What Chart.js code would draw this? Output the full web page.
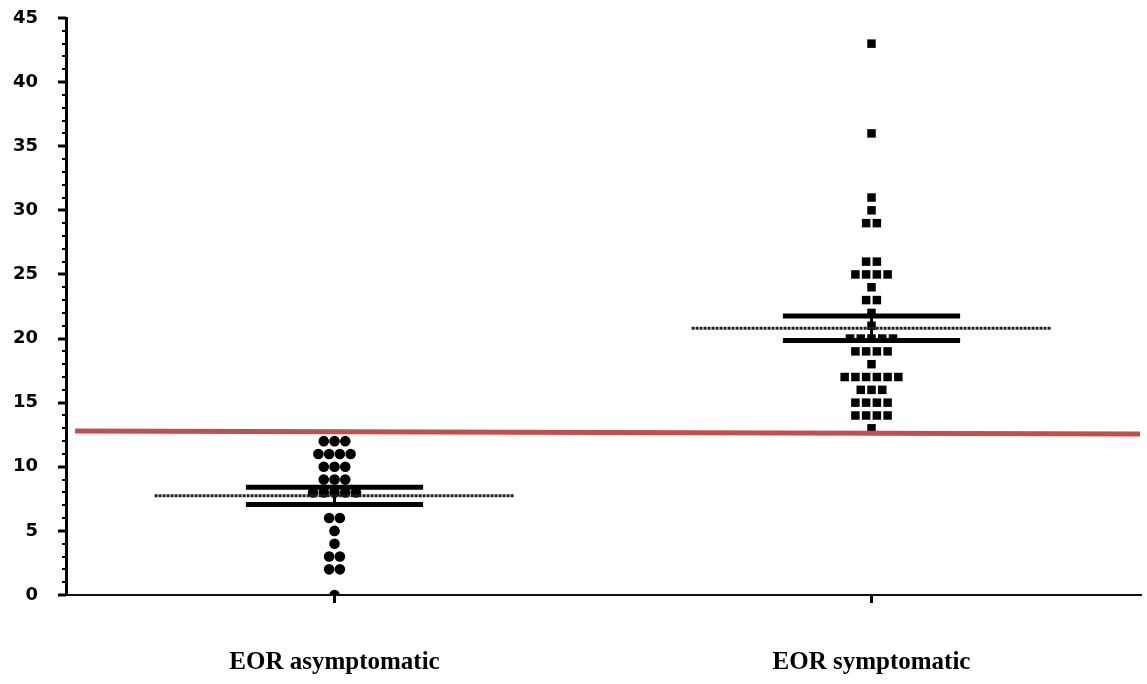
<!DOCTYPE html>
<html>
<head>
<meta charset="utf-8">
<style>
  html, body { margin: 0; padding: 0; background: #fff; }
  #wrap { width: 1147px; height: 684px; }
</style>
</head>
<body>
<div id="wrap"><canvas id="Grafica"></canvas></div>
<script src="https://cdn.jsdelivr.net/npm/chart.js"></script>
<script>
// categorias y valores
const categorias = ["EOR asymptomatic", "EOR symptomatic"];
const asintomaticos = [12, 12, 12, 11, 11, 11, 11, 10, 10, 10, 9, 9, 9, 8, 8, 8, 8, 8, 6, 6, 5, 4, 3, 3, 2, 2, 0];
const sintomaticos = [43, 36, 31, 30, 29, 29, 26, 26, 25, 25, 25, 25, 24, 23, 23, 22, 21,
  20, 20, 20, 20, 20, 19, 19, 19, 19, 18, 17, 17, 17, 17, 17, 17, 16, 16, 16,
  15, 15, 15, 15, 14, 14, 14, 14, 13];
const medias = [7.75, 20.8];
const semAlto = [8.4, 21.75];
const semBajo = [7.05, 19.85];
const umbral = [12.8, 12.55];     // linea roja, extremo izq y der
const ticksY = [0, 5, 10, 15, 20, 25, 30, 35, 40, 45];

const sep = 0.02;        // separacion horizontal de puntos iguales
const anchoMedia = 0.335;
const anchoSem = 0.165;

// reparte los valores repetidos en columnas alrededor de la categoria
function enjambre(valores, xCentro) {
  const cuenta = {};
  valores.forEach(v => cuenta[v] = (cuenta[v] || 0) + 1);
  const usados = {};
  return valores.map(v => {
    const i = usados[v] = (usados[v] === undefined ? 0 : usados[v] + 1);
    return { x: xCentro + (i - (cuenta[v] - 1) / 2) * sep, y: v };
  });
}

function segmento(x0, x1, y0, y1, ancho, color, dash) {
  return {
    type: 'line', showLine: true, order: 0,
    data: [{ x: x0, y: y0 }, { x: x1, y: y1 }],
    borderColor: color, borderWidth: ancho, borderDash: dash || [],
    pointRadius: 0, fill: false
  };
}

const datasets = [];
datasets.push(Object.assign(segmento(0.517, 2.5, umbral[0], umbral[1], 5, '#C0504D'), { order: -1 }));
[1, 2].forEach((xc, k) => {
  datasets.push(segmento(xc - anchoMedia, xc + anchoMedia, medias[k], medias[k], 3, '#222', [3, 1]));
  datasets.push(segmento(xc - anchoSem, xc + anchoSem, semAlto[k], semAlto[k], 5, '#000'));
  datasets.push(segmento(xc - anchoSem, xc + anchoSem, semBajo[k], semBajo[k], 5, '#000'));
  datasets.push(segmento(xc, xc, semBajo[k], semAlto[k], 3, '#000'));
});
datasets.push({
  label: categorias[0], order: 1,
  data: enjambre(asintomaticos, 1),
  pointStyle: 'circle', pointRadius: 5.3, pointBorderWidth: 0,
  backgroundColor: '#000', borderColor: '#000'
});
datasets.push({
  label: categorias[1], order: 1,
  data: enjambre(sintomaticos, 2),
  pointStyle: 'rect', pointRadius: 6, pointBorderWidth: 0,
  backgroundColor: '#000', borderColor: '#000'
});

// marcas del eje Y: mayores cada 5, menores cada 1
const marcasY = {
  id: 'marcasY',
  afterDraw(chart) {
    const y = chart.scales.y, ctx = chart.ctx, left = chart.chartArea.left;
    ctx.save();
    ctx.strokeStyle = '#000';
    for (let v = 0; v <= 45; v++) {
      const mayor = v % 5 === 0;
      const py = Math.round(y.getPixelForValue(v));
      ctx.lineWidth = mayor ? 3 : 2;
      ctx.beginPath();
      ctx.moveTo(left - (mayor ? 8 : 4), py);
      ctx.lineTo(left, py);
      ctx.stroke();
    }
    ctx.restore();
  }
};

new Chart(document.getElementById("Grafica"), {
  type: "scatter",
  data: { datasets: datasets },
  plugins: [marcasY],
  options: {
    responsive: true,
    maintainAspectRatio: false,
    animation: false,
    layout: { padding: { top: 18, right: 7, left: 0, bottom: 0 } },
    plugins: { legend: { display: false }, tooltip: { enabled: false } },
    scales: {
      x: {
        type: 'linear', min: 0.5, max: 2.5,
        afterBuildTicks: s => { s.ticks = [{ value: 1 }, { value: 2 }]; },
        afterFit: s => { s.height = 89; },
        ticks: {
          callback: v => categorias[v - 1],
          color: '#000', padding: 45, maxRotation: 0,
          font: { family: 'Liberation Serif', size: 25, weight: 'bold' }
        },
        grid: { drawOnChartArea: false, color: '#000', tickLength: 8, lineWidth: 3 },
        border: { color: '#111', width: 2, dash: [3, 1] }
      },
      y: {
        min: 0, max: 45,
        afterBuildTicks: s => { s.ticks = ticksY.map(v => ({ value: v })); },
        afterFit: s => { s.width = 66; },
        ticks: {
          color: '#000', padding: 0,
          font: { family: 'DejaVu Sans', size: 18, weight: 'bold' }
        },
        grid: { drawOnChartArea: false, tickColor: 'rgba(0,0,0,0)', tickLength: 28 },
        border: { color: '#000', width: 3 }
      }
    }
  }
});
</script>
</body>
</html>
